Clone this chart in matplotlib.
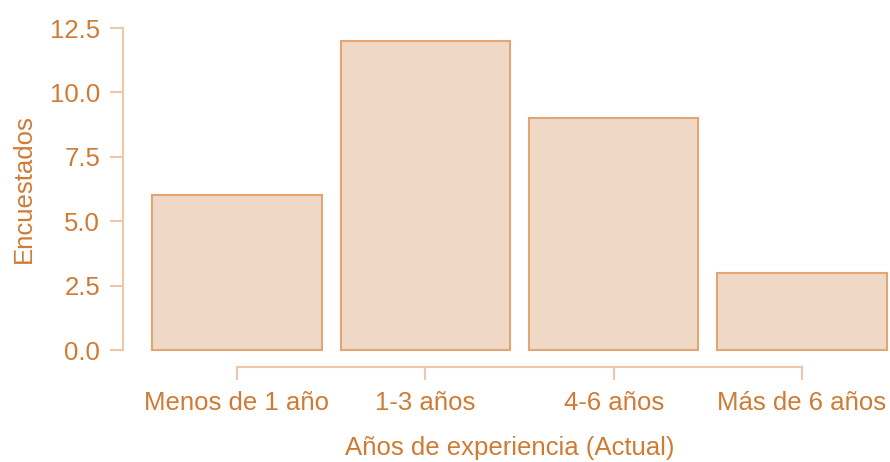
import matplotlib
matplotlib.use("Agg")
import matplotlib.pyplot as plt

categories = ["Menos de 1 año", "1-3 años", "4-6 años", "Más de 6 años"]
values = [6, 12, 9, 3]
yticks = [0.0, 2.5, 5.0, 7.5, 10.0, 12.5]

TEXT = "#CF7B34"
FILL = "#F0D8C6"
EDGE = "#E2A674"
AXIS = "#EDC7A8"

plt.rcParams['font.family'] = ['Liberation Sans', 'DejaVu Sans']

DPI = 100
fig = plt.figure(figsize=(8.9, 4.62), dpi=DPI)
W, H = 890, 462
# pixel geometry
x0_px, step_px = 237.0, 188.33
xlo, xhi = -0.55, 3.45
left_px = x0_px + xlo * step_px
right_px = x0_px + xhi * step_px
top_px, bot_px = 28.0, 350.0
ax = fig.add_axes([left_px / W, (H - bot_px) / H, (right_px - left_px) / W, (bot_px - top_px) / H])

pos = list(range(len(categories)))
ax.bar(pos, values, width=0.9, color=FILL, edgecolor=EDGE, linewidth=1.5, clip_on=False)
ax.set_xlim(xlo, xhi)
ax.set_ylim(0, 12.5)

for s in ["top", "right"]:
    ax.spines[s].set_visible(False)
px2pt = 72.0 / DPI
ax.spines["left"].set_position(("outward", (left_px - 123) * px2pt))
ax.spines["bottom"].set_position(("outward", 17 * px2pt))
ax.spines["left"].set_bounds(0, 12.5)
ax.spines["bottom"].set_bounds(0, 3)
for s in ["left", "bottom"]:
    ax.spines[s].set_color(AXIS)
    ax.spines[s].set_linewidth(1.5)

ax.set_yticks(yticks)
ax.set_yticklabels([f"{v:.1f}" for v in yticks])
ax.set_xticks(pos)
ax.set_xticklabels(categories)
ax.tick_params(axis="both", colors=AXIS, labelcolor=TEXT, labelsize=18.5,
               length=13 * px2pt, width=1.5)
ax.tick_params(axis="y", pad=7)
ax.tick_params(axis="x", pad=8)

ax.set_xlabel("Años de experiencia (Actual)", color=TEXT, fontsize=18.5, labelpad=15)
ax.set_ylabel("Encuestados", color=TEXT, fontsize=18.5, labelpad=10)

fig.savefig("out.png", dpi=DPI)
